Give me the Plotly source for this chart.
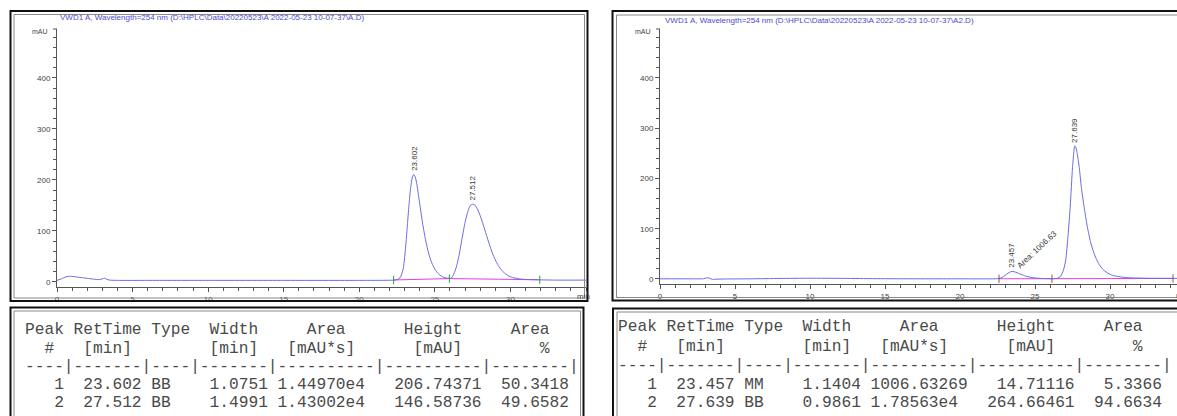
import numpy as np
import plotly.graph_objects as go

W, H = 1177, 416

# ---------------- data ----------------
left_title = "VWD1 A, Wavelength=254 nm (D:\\HPLC\\Data\\20220523\\A 2022-05-23 10-07-37\\A.D)"
right_title = "VWD1 A, Wavelength=254 nm (D:\\HPLC\\Data\\20220523\\A 2022-05-23 10-07-37\\A2.D)"

left_time = [0, 0.3, 0.6, 0.9, 1.2, 1.6, 2.0, 2.4, 2.8, 3.0, 3.15, 3.3, 3.5, 4.0, 6, 10, 15, 20, 22.3,
             22.5, 22.7, 22.9, 23.0, 23.1, 23.2, 23.3, 23.4, 23.5, 23.6, 23.7, 23.8, 23.9, 24.0, 24.2,
             24.4, 24.6, 24.8, 25.0, 25.2, 25.4, 25.6, 25.8, 26.0, 26.1, 26.2, 26.4, 26.6, 26.8, 27.0,
             27.2, 27.35, 27.5, 27.65, 27.8, 28.0, 28.2, 28.4, 28.6, 28.8, 29.0, 29.2, 29.4, 29.6, 29.8,
             30.0, 30.3, 30.7, 31.2, 32.0, 33.0, 35.0]
left_signal = [3, 6, 10, 11, 10, 8.5, 7, 5.5, 4.5, 6, 7.5, 5, 3.5, 3, 3, 3, 3, 3, 3.5,
               4.5, 8, 25, 48, 80, 118, 155, 185, 204, 210.5, 206, 193, 174, 153, 113,
               80, 55, 37, 25, 17, 12, 9, 7.5, 7, 8, 12, 27, 52, 85, 117,
               140, 150, 152.5, 150.5, 144, 130, 112, 93, 74, 57, 43, 32, 23.5, 17.5, 13,
               10, 7.5, 5.5, 4.5, 4, 3.5, 3.5]
left_base_time = [22.27, 25.96, 31.94]
left_base_signal = [3.8, 6.5, 4.2]

right_time = [0, 2.0, 2.9, 3.1, 3.3, 3.5, 3.8, 4.5, 6, 8, 10, 12, 14, 16, 20, 22.4,
              22.6, 22.8, 23.0, 23.2, 23.35, 23.45, 23.6, 23.8, 24.0, 24.3, 24.6, 25.0, 25.5, 26.0, 26.3,
              26.5, 26.7, 26.9, 27.05, 27.2, 27.35, 27.5, 27.6, 27.65, 27.72, 27.8, 27.95, 28.1, 28.3,
              28.5, 28.7, 28.9, 29.1, 29.3, 29.5, 29.8, 30.1, 30.5, 31.0, 31.5, 32.5, 34.5]
right_signal = [0.3, 0.3, 0.5, 2.2, 1.5, -0.8, -0.3, 0, 0.3, 1.0, 1.5, 1.2, 0.7, 0.4, 0.3, 0.4,
                1, 3, 7, 11.5, 14, 15, 14.5, 12.5, 10, 6.5, 4, 2, 0.9, 0.5, 0.6,
                1.5, 5, 18, 38, 85, 145, 222, 256, 265, 262, 252, 222, 180, 138,
                102, 74, 54, 39, 28, 20, 12.5, 8, 5, 3, 2.2, 1.5, 1.2]
right_base_time = [22.6, 26.13, 34.2]
right_base_signal = [0.4, 0.5, 1.0]

left_rt = [23.602, 27.512]
right_rt = [23.457, 27.639]
right_area_note = "Area: 1006.63"

# integration tables
left_peak_no = [1, 2]
left_type = ["BB", "BB"]
left_width = [1.0751, 1.4991]
left_area = ["1.44970e4", "1.43002e4"]
left_height = [206.74371, 146.58736]
left_pct = [50.3418, 49.6582]

right_peak_no = [1, 2]
right_type = ["MM", "BB"]
right_width = [1.1404, 0.9861]
right_area = ["1006.63269", "1.78563e4"]
right_height = [14.71116, 264.66461]
right_pct = [5.3366, 94.6634]

x_ticks = [0, 5, 10, 15, 20, 25, 30]
y_ticks = [0, 100, 200, 300, 400]

# ---------------- styling ----------------
CURVE = "#6b6be6"
BASE = "#e040e0"
AXC = "#555555"
TXT = "#4a4a4a"
TITLE_C = "#4a4ad0"
SANS = "Liberation Sans, Arial, sans-serif"
MONO = "Liberation Mono, Courier New, monospace"


def px(x):
    return x / W


def py(y):
    return 1 - y / H


fig = go.Figure()

for t, s, bt, bs, xa, ya in [
    (left_time, left_signal, left_base_time, left_base_signal, "x", "y"),
    (right_time, right_signal, right_base_time, right_base_signal, "x2", "y2"),
]:
    fig.add_trace(go.Scatter(x=bt, y=bs, mode="lines", line=dict(color=BASE, width=1),
                             xaxis=xa, yaxis=ya, hoverinfo="skip"))
    fig.add_trace(go.Scatter(x=t, y=s, mode="lines", line=dict(color=CURVE, width=1, shape="spline", smoothing=0.6),
                             xaxis=xa, yaxis=ya, hoverinfo="skip"))
    fig.add_trace(go.Scatter(x=bt, y=bs, mode="markers",
                             marker=dict(symbol="line-ns-open", size=6, line=dict(color="#333", width=1)),
                             xaxis=xa, yaxis=ya, hoverinfo="skip"))

axis_common = dict(showline=True, linecolor=AXC, linewidth=1, ticks="outside", ticklen=4,
                   tickcolor=AXC, tickwidth=1, showgrid=False, zeroline=False,
                   tickfont=dict(family=SANS, size=8, color="#444"), fixedrange=True)

fig.update_layout(
    width=W, height=H, margin=dict(l=0, r=0, t=0, b=0),
    paper_bgcolor="white", plot_bgcolor="white", showlegend=False, template="none",
    xaxis=dict(domain=[px(57), px(586)], range=[0, 35], anchor="y", tickvals=x_ticks,
               minor=dict(dtick=1, tick0=0, ticks="outside", ticklen=3, tickcolor=AXC), **axis_common),
    yaxis=dict(domain=[py(287), py(29)], range=[-10, 496], anchor="x", tickvals=y_ticks,
               minor=dict(dtick=20, tick0=0, ticks="outside", ticklen=3, tickcolor=AXC), **axis_common),
    xaxis2=dict(domain=[px(660), 1.0], range=[0, (W - 660) / 15.0], anchor="y2", tickvals=x_ticks,
                minor=dict(dtick=1, tick0=0, ticks="outside", ticklen=3, tickcolor=AXC), **axis_common),
    yaxis2=dict(domain=[py(284), py(29)], range=[-10, 497.5], anchor="x2", tickvals=y_ticks,
                minor=dict(dtick=20, tick0=0, ticks="outside", ticklen=3, tickcolor=AXC), **axis_common),
)

shapes = []


def rect(x0, y0, x1, y1, w, c):
    shapes.append(dict(type="rect", xref="paper", yref="paper", x0=px(x0), x1=px(x1),
                       y0=py(y1), y1=py(y0), line=dict(color=c, width=w), fillcolor="rgba(0,0,0,0)"))


# chart frames and table frames (double border)
rect(10.5, 11, 587.5, 301, 2, "#111")
rect(14, 14.5, 584.5, 298, 1, "#888")
rect(10.5, 307.5, 583.5, 440, 2, "#111")
rect(14, 311, 580.5, 440, 1, "#888")
rect(612.5, 11, 1200, 300.5, 2, "#111")
rect(616.5, 15, 1200, 297.5, 1, "#888")
rect(613, 308.5, 1200, 440, 2, "#111")
rect(617, 312, 1200, 440, 1, "#888")

# small end ticks at the top of y axes
for xax, ytop in [(57, 29), (660, 29)]:
    shapes.append(dict(type="line", xref="paper", yref="paper", x0=px(xax - 4), x1=px(xax),
                       y0=py(ytop), y1=py(ytop), line=dict(color=AXC, width=1)))
fig.update_layout(shapes=shapes)

ann = []
# titles
ann.append(dict(text=left_title, x=px(58), y=py(18), xref="paper", yref="paper", xanchor="left",
                yanchor="middle", showarrow=False, font=dict(family=SANS, size=8, color=TITLE_C)))
ann.append(dict(text=right_title, x=px(663), y=py(20), xref="paper", yref="paper", xanchor="left",
                yanchor="middle", showarrow=False, font=dict(family=SANS, size=8, color=TITLE_C)))
# axis unit labels
for xx, yy in [(50, 32), (653, 32)]:
    ann.append(dict(text="mAU", x=px(xx), y=py(yy), xref="paper", yref="paper", xanchor="right",
                    yanchor="middle", showarrow=False, font=dict(family=SANS, size=7, color="#444")))
for xx, yy in [(575, 296), (1174, 295)]:
    ann.append(dict(text="min", x=px(xx), y=py(yy), xref="paper", yref="paper", xanchor="left",
                    yanchor="middle", showarrow=False, font=dict(family=SANS, size=8, color="#444")))

# peak labels
for rts, t, s, xr, yr in [(left_rt, left_time, left_signal, "x", "y"),
                          (right_rt, right_time, right_signal, "x2", "y2")]:
    for rt in rts:
        top = float(np.interp(rt, t, s))
        ann.append(dict(text=f"{rt:.3f}", x=rt, y=top, xref=xr, yref=yr, xanchor="center",
                        yanchor="bottom", yshift=2, textangle=-90, showarrow=False,
                        font=dict(family=SANS, size=8, color="#333")))
ann.append(dict(text=right_area_note, x=right_rt[0], y=float(np.interp(right_rt[0], right_time, right_signal)),
                xref="x2", yref="y2", xanchor="left", yanchor="bottom", xshift=1, yshift=-2,
                textangle=-43, showarrow=False, font=dict(family=SANS, size=8, color="#333")))


# tables
def table_lines(nos, rts, types, widths, areas, heights, pcts):
    lines = ["Peak RetTime Type  Width     Area      Height     Area  ",
             "  #   [min]        [min]   [mAU*s]      [mAU]        %  ",
             "----|-------|----|-------|----------|----------|--------|"]
    for n, r, ty, w, a, h, p in zip(nos, rts, types, widths, areas, heights, pcts):
        lines.append(f"{n:>4d}{r:>8.3f} {ty:<4s} {w:>7.4f} {a:<10s} {h:>10.5f} {p:>8.4f}")
    return lines


left_lines = table_lines(left_peak_no, left_rt, left_type, left_width, left_area, left_height, left_pct)
right_lines = table_lines(right_peak_no, right_rt, right_type, right_width, right_area, right_height, right_pct)
line_y_left = [330, 349, 367, 384.5, 403]
line_y_right = [327, 347, 365.5, 385, 403]
for lines, x0, ys in [(left_lines, 23, line_y_left), (right_lines, 616, line_y_right)]:
    for ln, yy in zip(lines, ys):
        ann.append(dict(text=ln.replace(" ", "\u00a0"), x=px(x0), y=py(yy), xref="paper", yref="paper",
                        xanchor="left", yanchor="middle", showarrow=False,
                        font=dict(family=MONO, size=16.2, color=TXT)))

fig.update_layout(annotations=ann)
fig.write_html("out.html", post_script="document.body.style.margin='0px';",
               config={"displayModeBar": False, "staticPlot": True})
